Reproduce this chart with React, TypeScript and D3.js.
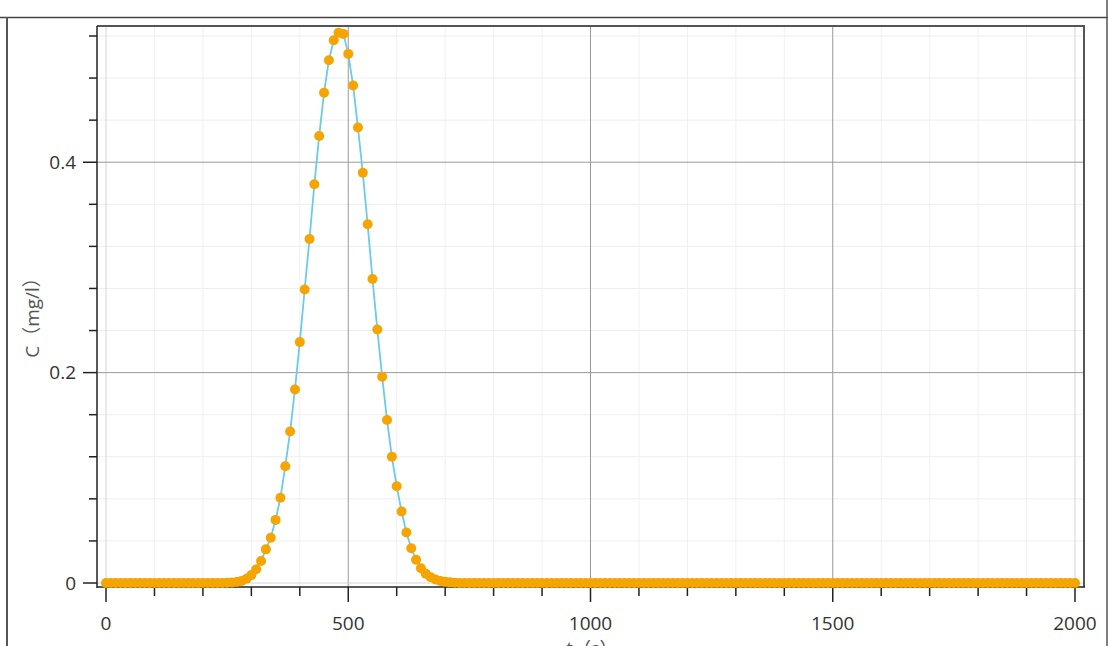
import React from "react";
import * as d3 from "d3";

// sampling times (s), every 10 s from 0 to 2000
const times: number[] = d3.range(0, 2001, 10);

// concentration C (mg/l), one value per time above
const concentration: number[] = [
  // 0 - 230
  0, 0, 0, 0, 0, 0, 0, 0, 0, 0, 0, 0, 0, 0, 0, 0, 0, 0, 0, 0, 0, 0, 0, 0,
  // 240 - 330
  0.0001, 0.0002, 0.0005, 0.001, 0.002, 0.004, 0.0075, 0.013, 0.021, 0.032,
  // 340 - 430
  0.043, 0.06, 0.081, 0.111, 0.144, 0.184, 0.229, 0.279, 0.327, 0.379,
  // 440 - 530
  0.425, 0.466, 0.497, 0.516, 0.523, 0.522, 0.503, 0.473, 0.433, 0.39,
  // 540 - 630
  0.341, 0.289, 0.241, 0.196, 0.155, 0.12, 0.092, 0.068, 0.048, 0.033,
  // 640 - 730
  0.022, 0.014, 0.0088, 0.0055, 0.0033, 0.002, 0.0011, 0.0006, 0.0003, 0.0001,
  // 740 - 2000
  0, 0, 0, 0, 0, 0, 0, 0, 0, 0, 0, 0, 0, 0, 0, 0, 0, 0, 0, 0, 0, 0, 0, 0, 0, 0,
  0, 0, 0, 0, 0, 0, 0, 0, 0, 0, 0, 0, 0, 0, 0, 0, 0, 0, 0, 0, 0, 0, 0, 0, 0, 0,
  0, 0, 0, 0, 0, 0, 0, 0, 0, 0, 0, 0, 0, 0, 0, 0, 0, 0, 0, 0, 0, 0, 0, 0, 0, 0,
  0, 0, 0, 0, 0, 0, 0, 0, 0, 0, 0, 0, 0, 0, 0, 0, 0, 0, 0, 0, 0, 0, 0, 0, 0, 0,
  0, 0, 0, 0, 0, 0, 0, 0, 0, 0, 0, 0, 0, 0, 0, 0, 0, 0, 0, 0, 0, 0, 0, 0, 0,
];

const xMajorTicks: number[] = [0, 500, 1000, 1500, 2000];
const xMinorTicks: number[] = d3.range(0, 2001, 100);
const yMajorTicks: number[] = [0, 0.2, 0.4];
const yMinorTicks: number[] = d3.range(0, 0.53, 0.04);
const xTickLabels: string[] = ["0", "500", "1000", "1500", "2000"];
const yTickLabels: string[] = ["0", "0.2", "0.4"];
const yAxisTitle = "C（mg/l）";
const xAxisTitle = "t（s）";

const W = 1108;
const H = 646;
const plot = { left: 97, right: 1084, top: 26, bottom: 587 };

export default function App() {
  const x = d3.scaleLinear().domain([-18.6, 2018.6]).range([plot.left, plot.right]);
  const y = d3.scaleLinear().domain([-0.0038, 0.5295]).range([plot.bottom, plot.top]);

  const pts = times.map((t, i) => ({ t, c: concentration[i] ?? 0 }));
  const line = d3
    .line<{ t: number; c: number }>()
    .x((d) => x(d.t))
    .y((d) => y(d.c));

  const font = "'Open Sans', 'Noto Sans', sans-serif";

  return (
    <svg
      width={W}
      height={H}
      style={{ position: "fixed", left: 0, top: 0, background: "#fff" }}
    >
      <rect x={0} y={0} width={W} height={H} fill="#fff" />
      {/* outer table frame */}
      <line x1={0} x2={W} y1={17.5} y2={17.5} stroke="#444" strokeWidth={1.5} />
      <line x1={7} x2={7} y1={17} y2={H} stroke="#555" strokeWidth={2} />
      <line x1={1107} x2={1107} y1={0} y2={H} stroke="#555" strokeWidth={1.5} />

      {/* minor grid */}
      {xMinorTicks
        .filter((v) => v % 500 !== 0)
        .map((v) => (
          <line key={"gx" + v} x1={x(v)} x2={x(v)} y1={plot.top} y2={plot.bottom} stroke="#f0f0f0" strokeWidth={1} />
        ))}
      {yMinorTicks
        .filter((v) => Math.abs(v / 0.2 - Math.round(v / 0.2)) > 1e-6)
        .map((v) => (
          <line key={"gy" + v} x1={plot.left} x2={plot.right} y1={y(v)} y2={y(v)} stroke="#eeeeee" strokeWidth={1} />
        ))}
      {/* major grid */}
      {xMajorTicks.map((v) => (
        <line
          key={"GX" + v}
          x1={x(v)}
          x2={x(v)}
          y1={plot.top}
          y2={plot.bottom}
          stroke={v === 0 || v === 2000 ? "#d4d4d4" : "#9a9a9a"}
          strokeWidth={1}
        />
      ))}
      {yMajorTicks.map((v) => (
        <line
          key={"GY" + v}
          x1={plot.left}
          x2={plot.right}
          y1={y(v)}
          y2={y(v)}
          stroke={v === 0 ? "#d4d4d4" : "#9a9a9a"}
          strokeWidth={1}
        />
      ))}

      {/* frame */}
      <line x1={plot.left} x2={plot.right + 1} y1={plot.top} y2={plot.top} stroke="#555" strokeWidth={2} />
      <line x1={plot.right} x2={plot.right} y1={plot.top} y2={plot.bottom} stroke="#555" strokeWidth={2} />
      <line x1={plot.left} x2={plot.left} y1={plot.top} y2={plot.bottom + 1} stroke="#222" strokeWidth={1.5} />
      <line x1={plot.left} x2={plot.right + 1} y1={plot.bottom} y2={plot.bottom} stroke="#222" strokeWidth={1.5} />

      {/* x ticks */}
      {xMinorTicks.map((v) => (
        <line
          key={"tx" + v}
          x1={x(v)}
          x2={x(v)}
          y1={plot.bottom}
          y2={plot.bottom + (v % 500 === 0 ? 15 : 9)}
          stroke="#222"
          strokeWidth={1.5}
        />
      ))}
      {xMajorTicks.map((v, i) => (
        <text key={"lx" + v} x={x(v)} y={630} textAnchor="middle" fontFamily={font} fontSize={19} fill="#333">
          {xTickLabels[i]}
        </text>
      ))}

      {/* y ticks */}
      {yMinorTicks.map((v) => {
        const major = Math.abs(v / 0.2 - Math.round(v / 0.2)) < 1e-6;
        return (
          <line
            key={"ty" + v}
            x1={plot.left - (major ? 14 : 8)}
            x2={plot.left}
            y1={y(v)}
            y2={y(v)}
            stroke="#222"
            strokeWidth={1.5}
          />
        );
      })}
      {yMajorTicks.map((v, i) => (
        <text
          key={"ly" + v}
          x={76}
          y={y(v)}
          dy="0.35em"
          textAnchor="end"
          fontFamily={font}
          fontSize={19}
          fill="#333"
        >
          {yTickLabels[i]}
        </text>
      ))}

      {/* axis titles */}
      <text
        transform={`translate(39, 313) rotate(-90)`}
        textAnchor="middle"
        fontFamily={"'Open Sans', 'Noto Sans CJK SC', sans-serif"}
        fontSize={19}
        fill="#555"
      >
        {yAxisTitle}
      </text>
      <text
        x={592}
        y={655}
        textAnchor="middle"
        fontFamily={"'Open Sans', 'Noto Sans CJK SC', sans-serif"}
        fontSize={18}
        fill="#555"
      >
        {xAxisTitle}
      </text>

      {/* series */}
      <path d={line(pts) ?? ""} fill="none" stroke="#6ccaea" strokeWidth={1.8} />
      {pts.map((p) => (
        <circle key={"p" + p.t} cx={x(p.t)} cy={y(p.c)} r={5} fill="#f5a400" />
      ))}
    </svg>
  );
}
